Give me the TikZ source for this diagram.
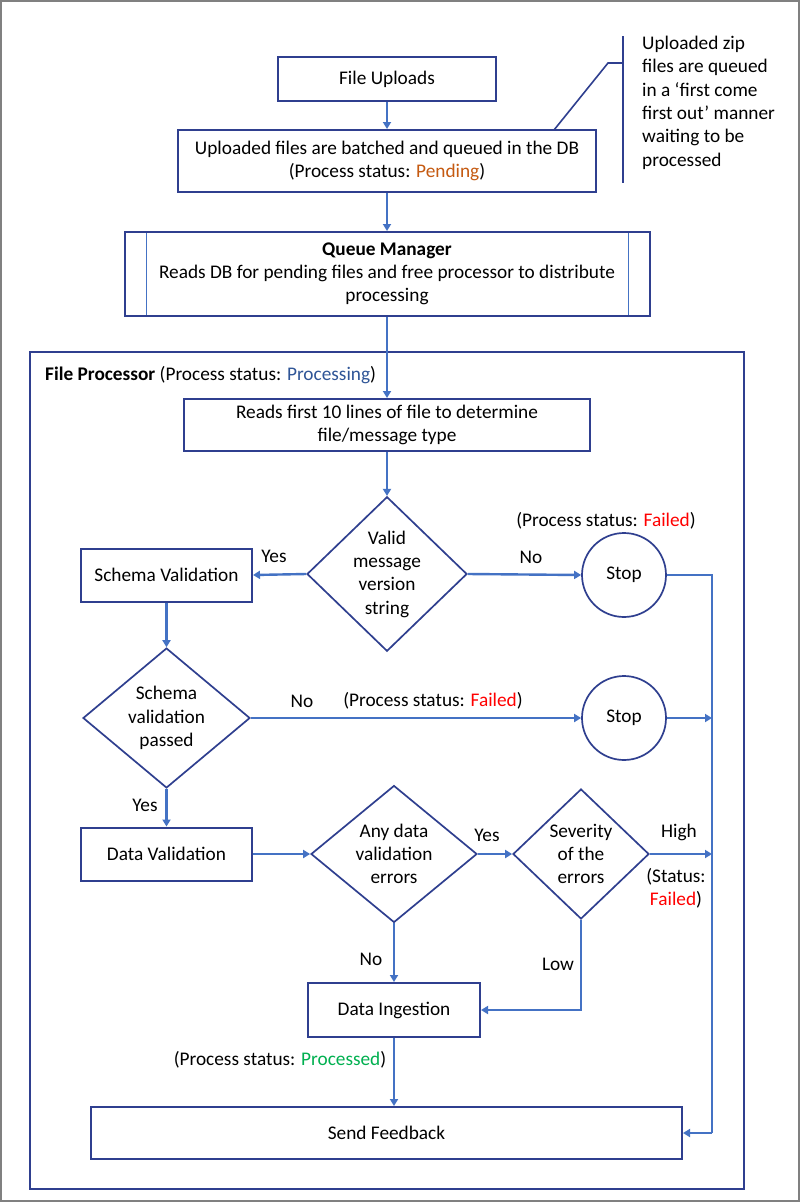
\documentclass[tikz,border=0pt]{standalone}
\usepackage{fontspec}
\setmainfont{Carlito}
\usetikzlibrary{shapes.geometric,arrows.meta}
\definecolor{boxblue}{HTML}{2F3F8F}
\definecolor{arrblue}{HTML}{4472C4}
\definecolor{pend}{HTML}{C55A11}
\definecolor{procblue}{HTML}{2F5597}
\definecolor{failred}{HTML}{FF0000}
\definecolor{okgreen}{HTML}{00B050}
\begin{document}
\begin{tikzpicture}[x=1pt,y=-1pt,
  every node/.style={font=\fontsize{19.3}{23.3}\selectfont, inner sep=0pt},
  box/.style={draw=boxblue, line width=2pt, rectangle, align=center},
  dec/.style={draw=boxblue, line width=1.7pt, diamond, align=center},
  stopc/.style={draw=boxblue, line width=1.7pt, circle, minimum size=84pt},
  conn/.style={draw=arrblue, line width=2.4pt, -{Triangle[width=8pt,length=7pt]}},
  line/.style={draw=arrblue, line width=2.4pt},
  lbl/.style={text=black}
]
\useasboundingbox (0,0) rectangle (800,1202);
\fill[white] (0,0) rectangle (800,1202);
\draw[gray, line width=2pt] (1,1) rectangle (799,1201);

% top part
\node[box, minimum width=218pt, minimum height=44pt] (fu) at (387,79) {File Uploads};
\node[box, minimum width=418pt, minimum height=62pt] (batch) at (387,161) {Uploaded files are batched and queued in the DB\\(Process status: \textcolor{pend}{Pending})};
\node[box, minimum width=525pt, minimum height=84pt] (qm) at (387,274) {\textbf{Queue Manager}\\Reads DB for pending files and free processor to distribute\\processing};
\draw[arrblue, line width=0.7pt] (146,233) -- (146,315);
\draw[arrblue, line width=0.7pt] (628,233) -- (628,315);

% annotation
\coordinate (barTop) at (623,36);
\coordinate (barBot) at (623,183);
\coordinate (barMid) at (623,63);
\coordinate (bend) at (608,63);
\coordinate (tick) at (554,130);
\draw[boxblue, line width=1.6pt] (barTop) -- (barBot);
\draw[boxblue, line width=1.6pt] (tick) -- (bend) -- (barMid);
\node[anchor=north west, align=left] (note) at (642,36) {Uploaded zip\\files are queued\\in a ‘first come\\first out’ manner\\waiting to be\\processed};

% file processor frame
\draw[boxblue, line width=2.4pt] (30,352) rectangle (744,1189);
\node[anchor=west] (fptitle) at (45,375) {\textbf{File Processor} (Process status: \textcolor{procblue}{Processing})};

\node[box, minimum width=406pt, minimum height=52pt] (reads) at (387,425) {Reads first 10 lines of file to determine\\file/message type};
\node[dec, minimum width=160pt, minimum height=134pt] (d1) at (387,574) {Valid\\message\\version\\string};
\node[box, minimum width=171pt, minimum height=53pt] (sv) at (166.5,575) {Schema Validation};
\node[stopc] (stop1) at (624,575) {Stop};
\node (fail1) at (606,521) {(Process status: \textcolor{failred}{Failed})};

\node[dec, minimum width=167pt, minimum height=134pt] (d2) at (166.5,718) {Schema\\validation\\passed};
\node[stopc] (stop2) at (624,718) {Stop};
\node (fail2) at (433,701) {(Process status: \textcolor{failred}{Failed})};

\node[box, minimum width=171pt, minimum height=53pt] (dv) at (166.5,854) {Data Validation};
\node[dec, minimum width=166pt, minimum height=134pt] (d3) at (394,854) {Any data\\validation\\errors};
\node[dec, minimum width=136pt, minimum height=130pt] (d4) at (581,854) {Severity\\of the\\errors};

\node[box, minimum width=172pt, minimum height=54pt] (di) at (394,1010) {Data Ingestion};
\node[box, minimum width=591pt, minimum height=52pt] (sf) at (386.5,1133) {Send Feedback};

\coordinate (rail) at (712,854);
\coordinate (railS) at (712,1133);

% connectors
\draw[conn] (fu.south) -- (batch.north);
\draw[conn] (batch.south) -- (qm.north);
\draw[conn] (qm.south) -- (reads.north);
\draw[conn] (reads.south) -- (d1.north);
\draw[conn] (d1.west) -- (sv.east);
\node (yes1) at (274,556) {Yes};
\draw[conn] (d1.east) -- (stop1.west);
\node (no1) at (531,557) {No};
\draw[conn] (sv.south) -- (d2.north);
\draw[conn] (d2.east) -- (stop2.west);
\node (no2) at (302,701) {No};
\draw[conn] (stop2.east) -- (stop2.east -| rail);
\draw[conn] (d2.south) -- (dv.north);
\node (yes2) at (145,805) {Yes};
\draw[conn] (dv.east) -- (d3.west);
\draw[conn] (d3.east) -- (d4.west);
\node (yes3) at (487,835) {Yes};
\draw[conn] (d4.east) -- (rail);
\node (high) at (679,832) {High};
\node[align=center] (stat) at (676,888) {(Status:\\\textcolor{failred}{Failed})};
\draw[conn] (d3.south) -- (di.north);
\node (no3) at (371,959) {No};
\draw[conn] (d4.south) |- (di.east);
\node (low) at (558,964) {Low};
\draw[conn] (di.south) -- (di.south |- sf.north);
\node (proc) at (280,1060) {(Process status: \textcolor{okgreen}{Processed})};
\draw[line] (stop1.east) -| (railS);
\draw[conn] (railS) -- (sf.east);
\end{tikzpicture}
\end{document}
